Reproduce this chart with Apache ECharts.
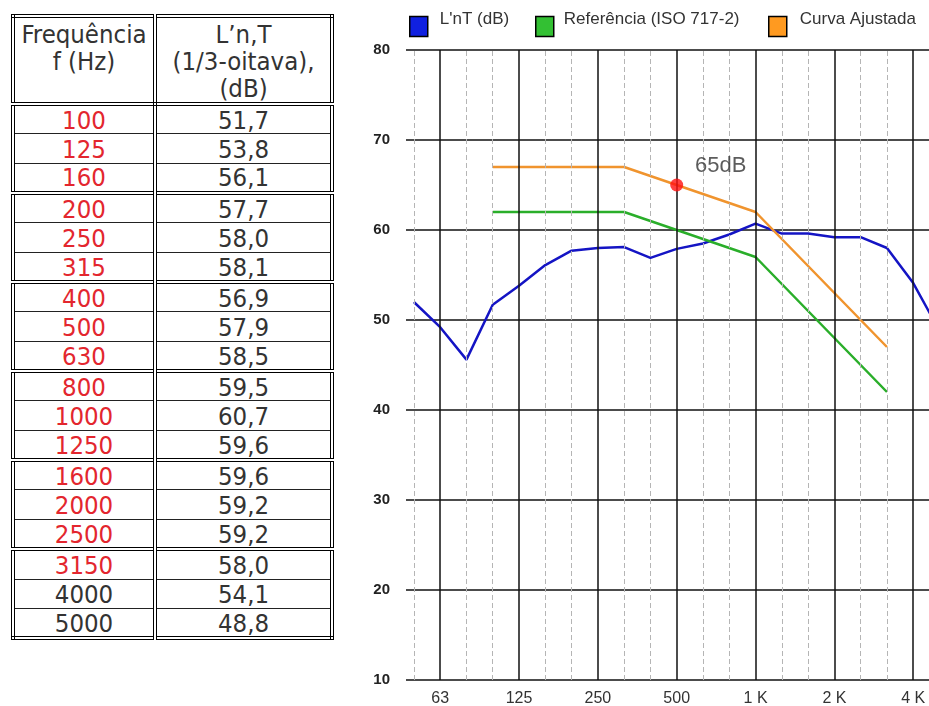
<!DOCTYPE html>
<html>
<head>
<meta charset="utf-8">
<script src="https://cdn.jsdelivr.net/npm/echarts@6.0.0/dist/echarts.min.js"></script>
<style>
  html, body { margin:0; padding:0; background:#fff; }
  #chart { position:absolute; left:0; top:0; width:929px; height:706px; }
  #tbl { position:absolute; left:11px; top:14px; width:323px; border-collapse:collapse;
         border:4px double #000; font-family:'DejaVu Sans Condensed','DejaVu Sans',sans-serif;
         font-stretch:condensed; font-size:25.5px; color:#333; z-index:2; background:#fff; table-layout:fixed; }
  #tbl td { padding:0; text-align:center; border:1px solid #222; box-sizing:border-box; white-space:nowrap; }
  #tbl td.c1 { width:142px; border-right:4px double #000; }
  #tbl tr.hdr td { height:84px; vertical-align:top; line-height:27px; padding-top:3px; border-bottom:4px double #000; }
  #tbl tr.row td { height:29.7px; line-height:24px; }
  #tbl tr.grp td { border-top:4px double #000; }
</style>
</head>
<body>
<div id="chart"></div>
<table id="tbl"></table>
<script>
// ---- data ----
const bandFreqs = ['50','63','80','100','125','160','200','250','315','400','500','630','800','1000','1250','1600','2000','2500','3150','4000','5000'];
const measuredLnT = [52.0, 49.2, 45.6, 51.7, 53.8, 56.1, 57.7, 58.0, 58.1, 56.9, 57.9, 58.5, 59.5, 60.7, 59.6, 59.6, 59.2, 59.2, 58.0, 54.1, 48.8];
const refFreqs = ['100','125','160','200','250','315','400','500','630','800','1000','1250','1600','2000','2500','3150'];
const referenceISO = [62,62,62,62,62,62,61,60,59,58,57,54,51,48,45,42];
const adjustedCurve = [67,67,67,67,67,67,66,65,64,63,62,59,56,53,50,47];
const tableFreqs = ['100','125','160','200','250','315','400','500','630','800','1000','1250','1600','2000','2500','3150','4000','5000'];
const octaveFreqs = ['63','125','250','500','1000','2000','4000'];
const octaveLabels = ['63','125','250','500','1 K','2 K','4 K'];
const yTicks = [10, 80, 10]; // min, max, step
const ratingFreq = '500';
const ratingValue = 65;
const ratingLabel = '65dB';
const seriesNames = ["L'nT (dB)", 'Referência (ISO 717-2)', 'Curva Ajustada'];

// ---- table ----
const tbl = document.getElementById('tbl');
let html = '<tr class="hdr"><td class="c1">Frequência<br>f (Hz)</td><td class="c2">L’n,T<br>(1/3-oitava),<br>(dB)</td></tr>';
tableFreqs.forEach((f, i) => {
  const v = measuredLnT[bandFreqs.indexOf(f)].toFixed(1).replace('.', ',');
  const red = refFreqs.indexOf(f) >= 0;
  const grp = (i > 0 && i % 3 === 0) ? ' grp' : '';
  html += '<tr class="row' + grp + '"><td class="c1" style="color:' + (red ? '#e3262e' : '#333') + '">' + f + '</td><td class="c2">' + v + '</td></tr>';
});
tbl.innerHTML = html;

// ---- chart ----
const chart = echarts.init(document.getElementById('chart'), null, {renderer:'canvas'});
const idx = f => bandFreqs.indexOf(f);
const FONT = 'Liberation Sans, Arial, sans-serif';

const gridLines = bandFreqs.map((f, i) => {
  const oi = octaveFreqs.indexOf(f);
  if (oi >= 0) {
    return { xAxis: i, lineStyle: { color:'#111', width:1.5, type:'solid' },
             label: { show:true, position:'start', formatter: octaveLabels[oi], distance: 11, color:'#333', fontSize:16, fontFamily:FONT } };
  }
  return { xAxis: i, lineStyle: { color:'#b5b5b5', width:1, type:[5,3] }, label: { show:false } };
});

function legendAt(left, padLeft, name, color) {
  return {
    icon:'rect', itemWidth:18, itemHeight:20, selectedMode:false, top:11, left:left, padding:0,
    itemStyle:{ borderColor:'#000', borderWidth:1.5 },
    formatter: n => n + '\n ',
    textStyle:{ fontSize:17, lineHeight:14, color:'#333', fontFamily:FONT, padding:[0,0,0,padLeft] },
    data:[{ name:name, itemStyle:{ color:color } }]
  };
}

chart.setOption({
  animation:false,
  backgroundColor:'#fff',
  legend:[
    legendAt(409, 7, seriesNames[0], '#1020e0'),
    legendAt(535, 5, seriesNames[1], '#33c033'),
    legendAt(768, 8, seriesNames[2], '#ff9a20')
  ],
  grid:{ left:406, right:0, top:50, bottom:26, containLabel:false },
  xAxis:{ type:'value', min:-0.3, max:19.6, show:false },
  yAxis:{
    type:'value', min:yTicks[0], max:yTicks[1], interval:yTicks[2],
    axisLine:{ show:false }, axisTick:{ show:false },
    axisLabel:{ fontSize:15, fontWeight:'bold', color:'#222', margin:16, fontFamily:FONT },
    splitLine:{ lineStyle:{ color:'#111', width:1.5 } }
  },
  series:[
    { type:'line', name:'grid', data:[], z:1, silent:true,
      markLine:{ silent:true, symbol:['none','none'], animation:false, data: gridLines } },
    { type:'line', name:seriesNames[0], data: measuredLnT.map((v, i) => [i, v]), symbol:'none', z:3,
      lineStyle:{ color:'#1414c4', width:2.5 }, itemStyle:{ color:'#1020e0' } },
    { type:'line', name:seriesNames[1], data: referenceISO.map((v, i) => [idx(refFreqs[i]), v]), symbol:'none', z:3,
      lineStyle:{ color:'#2aae2a', width:2.5 }, itemStyle:{ color:'#33c033' } },
    { type:'line', name:seriesNames[2], data: adjustedCurve.map((v, i) => [idx(refFreqs[i]), v]), symbol:'none', z:4,
      lineStyle:{ color:'#f0942e', width:2.5 }, itemStyle:{ color:'#ff9a20' } },
    { type:'scatter', name:'rating', data:[[idx(ratingFreq), ratingValue]], symbolSize:13, z:5,
      itemStyle:{ color:'#ff1010' },
      label:{ show:true, formatter: ratingLabel, position:'top', distance:2, offset:[44, 0], fontSize:22, color:'#333', fontFamily:FONT } }
  ]
});
</script>
</body>
</html>
